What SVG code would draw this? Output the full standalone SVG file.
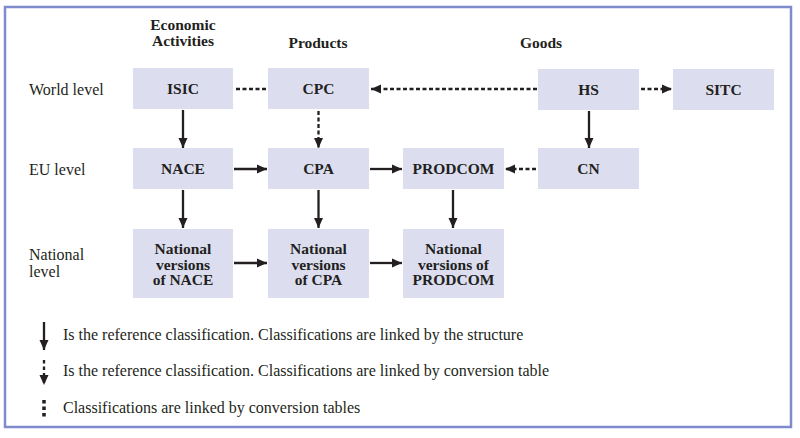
<svg xmlns="http://www.w3.org/2000/svg" width="800" height="438" viewBox="0 0 800 438">
<defs>
<style>
.box{fill:#dcdef0;}
.bl{font-family:"Liberation Serif","DejaVu Serif",serif;font-weight:bold;font-size:15.5px;fill:#231f20;text-anchor:middle;}
.lbl{font-family:"Liberation Serif","DejaVu Serif",serif;font-size:16px;fill:#231f20;}
.ln{stroke:#231f20;stroke-width:2.3;fill:none;}
.dash{stroke-dasharray:4 2.5;}
</style>
<marker id="ah" viewBox="0 0 10 10" refX="10" refY="5" markerWidth="10" markerHeight="10" markerUnits="userSpaceOnUse" orient="auto">
<path d="M0,0.5 L10,5 L0,9.5 Z" fill="#231f20"/>
</marker>
</defs>
<rect x="0" y="0" width="800" height="438" fill="#ffffff"/>
<rect x="5" y="7" width="786" height="420" fill="none" stroke="#7f8bcc" stroke-width="2.5"/>

<g id="headers">
<text class="bl" x="183" y="30">Economic</text>
<text class="bl" x="183" y="46">Activities</text>
<text class="bl" x="318" y="48">Products</text>
<text class="bl" x="541" y="48">Goods</text>
</g>
<g id="levels">
<text class="lbl" x="29" y="95">World level</text>
<text class="lbl" x="29" y="175">EU level</text>
<text class="lbl" x="29" y="260">National</text>
<text class="lbl" x="29" y="277">level</text>
</g>

<g id="connectors">
<line class="ln dash" x1="236" y1="89" x2="266" y2="89"/>
<line class="ln dash" x1="537" y1="89" x2="371" y2="89" marker-end="url(#ah)"/>
<line class="ln dash" x1="641" y1="89" x2="672" y2="89" marker-end="url(#ah)"/>
<line class="ln" x1="183" y1="110" x2="183" y2="148" marker-end="url(#ah)"/>
<line class="ln dash" x1="318.5" y1="111" x2="318.5" y2="148" marker-end="url(#ah)"/>
<line class="ln" x1="589" y1="111" x2="589" y2="148" marker-end="url(#ah)"/>
<line class="ln" x1="234" y1="169" x2="267" y2="169" marker-end="url(#ah)"/>
<line class="ln" x1="370" y1="169" x2="402" y2="169" marker-end="url(#ah)"/>
<line class="ln dash" x1="536" y1="169" x2="505" y2="169" marker-end="url(#ah)"/>
<line class="ln" x1="183" y1="190" x2="183" y2="228" marker-end="url(#ah)"/>
<line class="ln" x1="318.5" y1="190" x2="318.5" y2="228" marker-end="url(#ah)"/>
<line class="ln" x1="453" y1="190" x2="453" y2="228" marker-end="url(#ah)"/>
<line class="ln" x1="234" y1="263" x2="267" y2="263" marker-end="url(#ah)"/>
<line class="ln" x1="370" y1="263" x2="402" y2="263" marker-end="url(#ah)"/>
</g>

<g id="isic"><rect class="box" x="133" y="68" width="100" height="41"/><text class="bl" x="183" y="94">ISIC</text></g>
<g id="cpc"><rect class="box" x="268" y="68" width="101" height="41"/><text class="bl" x="318.5" y="94">CPC</text></g>
<g id="hs"><rect class="box" x="538" y="69" width="101" height="41"/><text class="bl" x="588.5" y="95">HS</text></g>
<g id="sitc"><rect class="box" x="673" y="69" width="101" height="41"/><text class="bl" x="723.5" y="95">SITC</text></g>
<g id="nace"><rect class="box" x="133" y="148" width="100" height="41"/><text class="bl" x="183" y="174">NACE</text></g>
<g id="cpa"><rect class="box" x="268" y="148" width="101" height="41"/><text class="bl" x="318.5" y="174">CPA</text></g>
<g id="prodcom"><rect class="box" x="403" y="148" width="101" height="41"/><text class="bl" x="453.5" y="174">PRODCOM</text></g>
<g id="cn"><rect class="box" x="538" y="148" width="101" height="41"/><text class="bl" x="588.5" y="174">CN</text></g>
<g id="nat-nace"><rect class="box" x="133" y="229" width="100" height="69"/><text class="bl" x="183" y="254">National</text><text class="bl" x="183" y="269.5">versions</text><text class="bl" x="183" y="285">of NACE</text></g>
<g id="nat-cpa"><rect class="box" x="268" y="229" width="101" height="69"/><text class="bl" x="318.5" y="254">National</text><text class="bl" x="318.5" y="269.5">versions</text><text class="bl" x="318.5" y="285">of CPA</text></g>
<g id="nat-prodcom"><rect class="box" x="403" y="229" width="101" height="69"/><text class="bl" x="453.5" y="254">National</text><text class="bl" x="453.5" y="269.5">versions of</text><text class="bl" x="453.5" y="285">PRODCOM</text></g>

<g id="legend">
<line class="ln" x1="44" y1="322" x2="44" y2="350" marker-end="url(#ah)"/>
<text class="lbl" x="63" y="340">Is the reference classification. Classifications are linked by the structure</text>
<line class="ln" x1="44" y1="360" x2="44" y2="385" stroke-dasharray="3.5 3" marker-end="url(#ah)"/>
<text class="lbl" x="63" y="376">Is the reference classification. Classifications are linked by conversion table</text>
<line x1="44" y1="400" x2="44" y2="419" stroke="#231f20" stroke-width="3.5" stroke-dasharray="3.5 3"/>
<text class="lbl" x="63" y="413">Classifications are linked by conversion tables</text>
</g>
</svg>
